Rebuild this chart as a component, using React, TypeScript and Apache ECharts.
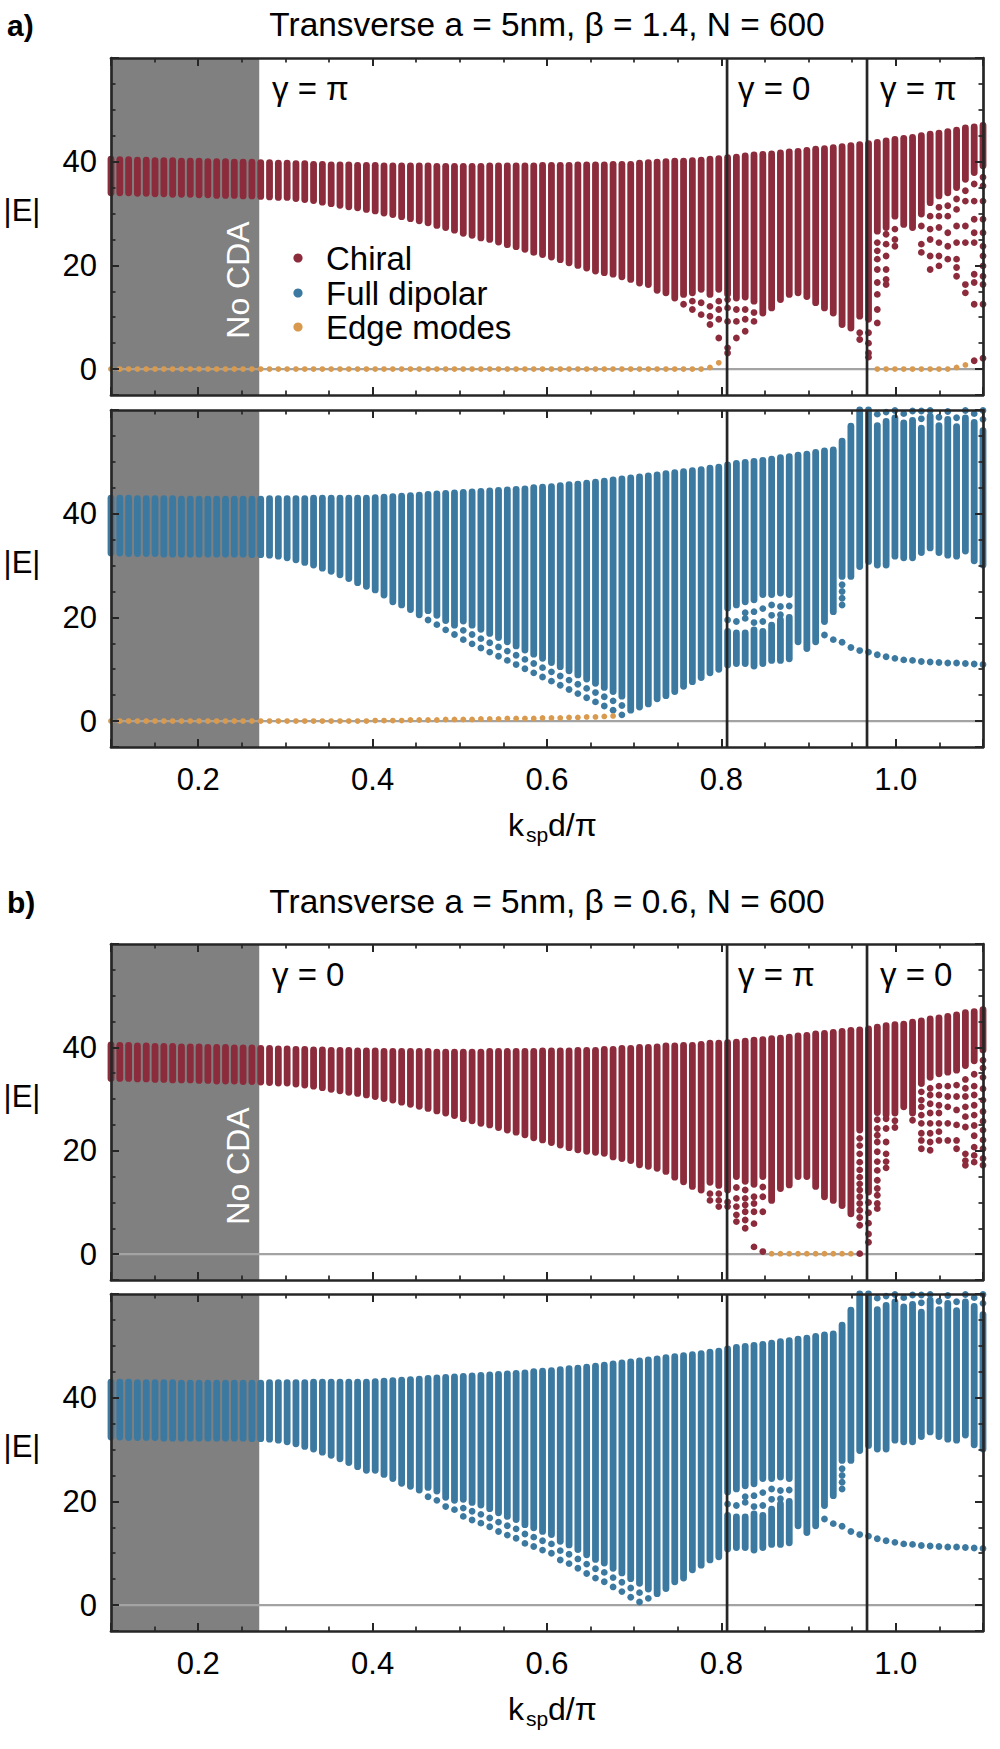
import React, { useEffect, useRef } from "react";
import * as echarts from "echarts";

// ---------- sampling grid (k_sp d / pi) ----------
const KD = [
  0.1, 0.1101, 0.1202, 0.1303, 0.1404, 0.1505, 0.1606, 0.1707, 0.1808, 0.1909,
  0.201, 0.2111, 0.2212, 0.2313, 0.2414, 0.2515, 0.2616, 0.2717, 0.2818, 0.2919,
  0.302, 0.3121, 0.3222, 0.3323, 0.3424, 0.3525, 0.3626, 0.3727, 0.3828, 0.3929,
  0.403, 0.4131, 0.4232, 0.4333, 0.4434, 0.4535, 0.4636, 0.4737, 0.4838, 0.4939,
  0.504, 0.5141, 0.5242, 0.5343, 0.5444, 0.5545, 0.5646, 0.5747, 0.5848, 0.5949,
  0.6051, 0.6152, 0.6253, 0.6354, 0.6455, 0.6556, 0.6657, 0.6758, 0.6859, 0.696,
  0.7061, 0.7162, 0.7263, 0.7364, 0.7465, 0.7566, 0.7667, 0.7768, 0.7869, 0.797,
  0.8071, 0.8172, 0.8273, 0.8374, 0.8475, 0.8576, 0.8677, 0.8778, 0.8879, 0.898,
  0.9081, 0.9182, 0.9283, 0.9384, 0.9485, 0.9586, 0.9687, 0.9788, 0.9889, 0.999,
  1.0091, 1.0192, 1.0293, 1.0394, 1.0495, 1.0596, 1.0697, 1.0798, 1.0899, 1.1,
];

const NO_CDA_RANGE = [0.1, 0.27];
const GAMMA_LINES = [0.8065, 0.967];
const X_TICKS_MIN = 0.1, X_TICKS_MAX = 1.1;
const Y_MIN = -5, Y_MAX = 60;

// ---------- panel a) upper: chiral (beta = 1.4) ----------
const A_CHIRAL_TOP = [
  40.5, 40.4, 40.4, 40.3, 40.3, 40.2, 40.2, 40.2, 40.1, 40.1,
  40.1, 40.0, 40.0, 40.0, 39.9, 39.9, 39.9, 39.8, 39.8, 39.7,
  39.7, 39.6, 39.6, 39.5, 39.5, 39.4, 39.4, 39.4, 39.3, 39.3,
  39.3, 39.2, 39.2, 39.2, 39.2, 39.2, 39.2, 39.1, 39.1, 39.1,
  39.1, 39.1, 39.1, 39.2, 39.2, 39.2, 39.2, 39.2, 39.2, 39.3,
  39.3, 39.3, 39.3, 39.4, 39.4, 39.4, 39.4, 39.5, 39.5, 39.5,
  39.7, 39.8, 39.9, 40.0, 40.1, 40.1, 40.2, 40.3, 40.5, 40.6,
  40.8, 40.9, 41.1, 41.3, 41.4, 41.5, 41.7, 41.9, 42.0, 42.2,
  42.4, 42.5, 42.7, 42.9, 43.1, 43.3, 43.5, 43.7, 44.0, 44.3,
  44.5, 44.7, 45.0, 45.3, 45.5, 45.8, 46.1, 46.5, 46.7, 47.0,
];
const A_CHIRAL_LOW = [
  34.0, 34.0, 34.0, 33.9, 33.9, 33.8, 33.8, 33.7, 33.7, 33.7,
  33.6, 33.6, 33.5, 33.5, 33.5, 33.4, 33.4, 33.3, 33.2, 33.1,
  33.1, 32.9, 32.7, 32.5, 32.2, 31.9, 31.6, 31.3, 31.1, 30.8,
  30.5, 30.1, 29.8, 29.4, 29.0, 28.6, 28.2, 27.7, 27.3, 26.8,
  26.2, 25.8, 25.3, 25.0, 24.5, 24.0, 23.6, 23.1, 22.5, 22.1,
  21.6, 21.1, 20.5, 20.0, 19.5, 18.9, 18.6, 18.3, 17.8, 17.3,
  16.6, 16.3, 15.2, 14.7, 13.7, 14.4, 14.7, 15.4, 14.4, 15.4,
  14.5, 13.7, 13.9, 13.1, 10.8, 11.8, 13.4, 14.4, 14.7, 14.0,
  12.8, 11.8, 10.8, 8.6, 7.9, 10.2, 10.0, 26.6, 27.3, 29.5,
  27.9, 27.3, 29.9, 32.1, 33.4, 34.0, 35.0, 36.6, 37.9, 39.2,
];
// [column index, isolated eigenvalues below the dense band...]
const A_CHIRAL_SPARSE = [
  [65, 12.5], [66, 13.1, 11.5], [67, 12.8, 10.5], [68, 12.1, 10.2, 8.6],
  [69, 13.1, 11.5, 9.6, 6.0], [70, 13.4, 11.8, 9.2, 4.1, 3.1], [71, 11.5, 9.2, 6.0],
  [72, 11.5, 9.6, 7.3], [73, 10.9, 9.2], [85, 7.0, 5.7], [86, 9.6, 7.0, 5.0, 3.1, 2.3],
  [87, 24.4, 22.8, 21.2, 19.2, 16.7, 14.4, 11.5, 8.9],
  [88, 26.0, 24.1, 21.8, 19.2, 17.3, 16.3],
  [89, 27.0, 25.0, 23.7],
  [92, 27.6, 24.1, 22.5],
  [93, 29.5, 27.0, 25.0, 21.8, 19.2],
  [94, 31.2, 29.5, 27.3, 24.4, 21.8, 19.9],
  [95, 31.5, 29.5, 26.3, 23.7, 21.2],
  [96, 32.8, 30.8, 27.6, 24.4, 21.2, 19.6, 17.9],
  [97, 34.4, 32.4, 27.6, 24.4, 16.3, 14.7],
  [98, 35.7, 32.4, 28.9, 26.3, 24.4, 18.3, 16.7, 12.5, 1.6],
  [99, 37.0, 35.3, 32.4, 28.9, 26.3, 23.7, 21.8, 19.9, 17.9, 16.3, 12.5, 2.1],
];
const A_CHIRAL_EDGE = [
  0, 0, 0, 0, 0, 0, 0, 0, 0, 0,
  0, 0, 0, 0, 0, 0, 0, 0, 0, 0,
  0, 0, 0, 0, 0, 0, 0, 0, 0, 0,
  0, 0, 0, 0, 0, 0, 0, 0, 0, 0,
  0, 0, 0, 0, 0, 0, 0, 0, 0, 0,
  0, 0, 0, 0, 0, 0, 0, 0, 0, 0,
  0, 0, 0, 0, 0, 0, 0, 0, 0.3, 1.2,
  null, null, null, null, null, null, null, null, null, null,
  null, null, null, null, null, null, null, 0, 0, 0,
  0, 0, 0, 0, 0, 0, 0.3, 0.8, null, null,
];

// ---------- full dipolar (shared upper edge) ----------
const DIP_TOP = [
  43.0, 43.0, 43.0, 42.9, 42.9, 42.9, 42.9, 42.9, 42.8, 42.8,
  42.8, 42.8, 42.8, 42.8, 42.8, 42.8, 42.8, 42.8, 42.9, 42.9,
  42.9, 42.9, 42.9, 43.0, 43.0, 43.0, 43.0, 43.0, 43.0, 43.0,
  43.1, 43.2, 43.3, 43.4, 43.5, 43.6, 43.7, 43.8, 43.9, 44.0,
  44.1, 44.2, 44.3, 44.4, 44.5, 44.6, 44.7, 44.8, 45.0, 45.1,
  45.2, 45.4, 45.6, 45.7, 45.9, 46.1, 46.3, 46.5, 46.7, 46.9,
  47.1, 47.3, 47.5, 47.7, 47.9, 48.1, 48.3, 48.5, 48.8, 49.0,
  49.4, 49.7, 49.9, 50.1, 50.3, 50.5, 50.8, 51.0, 51.3, 51.5,
  51.8, 52.1, 52.3, 54.0, 56.9, 62.0, 62.0, 57.0, 57.8, 58.5,
  57.5, 58.0, 56.5, 58.8, 57.0, 58.2, 56.8, 58.5, 57.6, 56.0,
];
// second (lower) dense block in the gamma window: [column, low, high]
const DIP_GAP_SEGMENTS = [
  [70, 10.8, 17.3], [71, 11.1, 17.0], [72, 11.1, 17.0], [73, 10.6, 17.6],
  [74, 11.1, 17.3], [75, 11.7, 18.5], [76, 11.7, 19.5], [77, 12.0, 20.0],
];
const DIP_RIGHT_DOTS = [
  [70, 19.5], [71, 19.2], [72, 19.8, 20.9], [73, 21.1, 19.0], [74, 21.7, 19.2],
  [75, 22.4, 20.4], [76, 22.1, 20.5], [77, 22.2],
  [81, 16.6], [82, 15.7], [83, 26.3, 25.0, 23.7, 22.4, 15.2], [84, 14.2], [85, 13.6],
  [86, 13.3], [87, 12.8, 59.2], [88, 12.4, 59.6], [89, 12.1, 59.9], [90, 11.8, 59.3],
  [91, 11.7, 59.8], [92, 11.5, 58.3, 59.8], [93, 11.4, 59.9], [94, 11.3, 58.6],
  [95, 11.2, 59.7], [96, 11.2, 58.5], [97, 11.1, 59.9], [98, 11.0, 59.3], [99, 10.9, 58.2, 59.9],
];

// ---------- panel a) lower: full dipolar (beta = 1.4) ----------
const A_DIP_LOW = [
  32.4, 32.4, 32.3, 32.3, 32.3, 32.3, 32.2, 32.2, 32.2, 32.2,
  32.2, 32.2, 32.2, 32.2, 32.2, 32.2, 32.1, 32.1, 32.0, 31.8,
  31.5, 31.1, 30.6, 30.1, 29.5, 28.9, 28.2, 27.5, 26.7, 26.0,
  25.3, 24.3, 23.0, 22.4, 21.5, 20.5, 21.3, 20.4, 19.4, 18.5,
  19.3, 18.5, 17.7, 16.9, 16.1, 15.3, 14.5, 13.7, 12.9, 12.1,
  11.3, 10.5, 9.7, 8.9, 8.1, 7.3, 6.5, 5.7, 4.8, 2.1,
  2.7, 3.3, 4.3, 4.9, 5.7, 6.7, 7.6, 8.4, 9.3, 10.0,
  21.8, 22.4, 23.0, 23.4, 24.4, 24.4, 24.7, 24.4, 15.3, 14.0,
  15.3, 19.2, 21.1, 27.9, 27.9, 29.8, 30.8, 30.1, 30.1, 31.8,
  31.5, 31.5, 32.5, 33.4, 32.5, 32.0, 31.8, 32.8, 30.9, 30.1,
];
const A_DIP_SPARSE = [
  [36, 19.5], [37, 18.6], [38, 17.6], [39, 16.7],
  [40, 17.5, 15.7], [41, 16.7, 14.9], [42, 15.9, 14.1], [43, 15.1, 13.3], [44, 14.3, 12.5],
  [45, 13.5, 11.7], [46, 12.7, 10.9], [47, 11.9, 10.1], [48, 11.1, 9.3], [49, 10.3, 8.5],
  [50, 9.5, 7.7], [51, 8.7, 6.9], [52, 7.9, 6.1], [53, 7.1, 5.3], [54, 6.3, 4.5],
  [55, 5.5, 3.7], [56, 4.7, 2.9], [57, 3.9, 2.1], [58, 3.0, 1.2],
];
const A_DIP_EDGE = [
  0, 0, 0, 0, 0, 0, 0, 0, 0, 0,
  0, 0, 0, 0, 0, 0, 0, 0, 0, 0,
  0, 0, 0, 0, 0, 0, 0, 0, 0, 0,
  0.1, 0.1, 0.1, 0.1, 0.2, 0.2, 0.2, 0.2, 0.3, 0.3,
  0.3, 0.3, 0.4, 0.4, 0.4, 0.5, 0.5, 0.5, 0.5, 0.6,
  0.6, 0.6, 0.7, 0.7, 0.8, 0.8, 0.9, 1.0, null, null,
  null, null, null, null, null, null, null, null, null, null,
  null, null, null, null, null, null, null, null, null, null,
  null, null, null, null, null, null, null, null, null, null,
  null, null, null, null, null, null, null, null, null, null,
];

// ---------- panel b) upper: chiral (beta = 0.6) ----------
const B_CHIRAL_TOP = [
  40.5, 40.4, 40.4, 40.3, 40.3, 40.2, 40.2, 40.2, 40.1, 40.1,
  40.1, 40.0, 40.0, 40.0, 39.9, 39.9, 39.9, 39.8, 39.8, 39.7,
  39.7, 39.6, 39.6, 39.5, 39.5, 39.4, 39.4, 39.4, 39.3, 39.3,
  39.3, 39.2, 39.2, 39.2, 39.2, 39.2, 39.2, 39.1, 39.1, 39.1,
  39.1, 39.1, 39.1, 39.2, 39.2, 39.2, 39.2, 39.2, 39.2, 39.3,
  39.3, 39.3, 39.3, 39.4, 39.4, 39.4, 39.6, 39.6, 39.8, 39.8,
  40.0, 40.0, 40.1, 40.3, 40.3, 40.4, 40.4, 40.6, 40.8, 40.8,
  40.9, 41.0, 41.2, 41.4, 41.5, 41.7, 41.8, 42.0, 42.2, 42.3,
  42.6, 42.7, 42.9, 43.1, 43.3, 43.4, 43.6, 43.9, 44.2, 44.4,
  44.5, 44.9, 45.1, 45.5, 45.7, 46.0, 46.3, 46.7, 46.9, 47.3,
];
const B_CHIRAL_LOW = [
  34.0, 34.0, 34.0, 33.9, 33.9, 33.8, 33.8, 33.7, 33.7, 33.7,
  33.6, 33.6, 33.5, 33.5, 33.5, 33.4, 33.4, 33.3, 33.2, 33.1,
  33.1, 32.9, 32.7, 32.5, 32.2, 31.9, 31.6, 31.3, 31.1, 30.8,
  30.5, 30.1, 29.8, 29.4, 29.0, 28.6, 28.2, 27.7, 27.3, 26.8,
  26.2, 25.8, 25.3, 25.0, 24.5, 24.0, 23.6, 23.1, 22.5, 22.1,
  21.6, 21.1, 20.6, 20.2, 19.9, 19.7, 19.5, 18.8, 18.5, 18.1,
  17.3, 17.0, 16.6, 16.0, 14.9, 14.0, 13.1, 12.4, 13.9, 13.3,
  12.4, 15.0, 14.1, 13.5, 15.0, 10.4, 12.7, 13.4, 15.0, 15.0,
  13.1, 11.1, 10.4, 9.4, 7.8, 24.0, 12.0, 27.4, 27.0, 27.3,
  28.5, 27.3, 33.0, 34.2, 34.9, 35.2, 35.6, 36.5, 37.4, 39.5,
];
const B_CHIRAL_SPARSE = [
  [68, 11.7, 10.4], [69, 11.7, 10.4, 9.2], [70, 10.1, 9.2],
  [71, 12.9, 10.8, 9.2, 7.6, 6.3], [72, 12.4, 10.8, 9.5, 8.2, 6.6, 5.0],
  [73, 11.1, 9.8, 8.2, 5.9, 1.4], [74, 13.0, 11.1, 8.2, 0.5],
  [85, 22.4, 21.0, 19.4, 17.8, 16.3, 14.9, 13.6, 12.4, 11.1, 9.8, 8.5, 7.1, 5.6, 0.1],
  [86, 10.0, 8.0, 6.0, 3.9, 2.3],
  [87, 26.0, 24.3, 23.0, 21.7, 19.8, 17.9, 16.2, 14.3, 12.7, 11.4, 9.8, 8.8],
  [88, 26.2, 24.3, 21.7, 19.4, 17.9, 16.7],
  [89, 25.8, 24.5], [91, 25.9],
  [92, 31.4, 29.8, 28.5, 26.9, 25.3, 23.4, 22.0, 20.4],
  [93, 32.1, 30.8, 29.1, 27.3, 25.3, 23.4, 21.7, 20.1],
  [94, 32.5, 30.8, 28.8, 27.3, 25.3, 23.7, 22.0],
  [95, 32.5, 30.5, 28.5, 25.3, 22.0],
  [96, 32.7, 30.5, 27.9, 25.0, 22.0, 20.4],
  [97, 33.8, 32.1, 30.5, 28.5, 26.6, 24.6, 19.4, 18.1, 17.2],
  [98, 34.8, 32.5, 30.8, 28.8, 26.9, 24.9, 22.9, 20.7, 19.1, 17.8],
  [99, 37.5, 36.0, 34.2, 32.0, 29.8, 27.6, 25.7, 24.0, 22.1, 20.4, 18.5, 17.2],
];
const B_CHIRAL_EDGE = [
  null, null, null, null, null, null, null, null, null, null,
  null, null, null, null, null, null, null, null, null, null,
  null, null, null, null, null, null, null, null, null, null,
  null, null, null, null, null, null, null, null, null, null,
  null, null, null, null, null, null, null, null, null, null,
  null, null, null, null, null, null, null, null, null, null,
  null, null, null, null, null, null, null, null, null, null,
  null, null, null, null, null, 0.1, 0.1, 0.1, 0.1, 0.1,
  0.1, 0.1, 0.1, 0.1, 0.1, null, null, null, null, null,
  null, null, null, null, null, null, null, null, null, null,
];

// ---------- panel b) lower: full dipolar (beta = 0.6) ----------
const B_DIP_LOW = [
  32.4, 32.4, 32.3, 32.3, 32.3, 32.3, 32.2, 32.2, 32.2, 32.2,
  32.2, 32.2, 32.2, 32.2, 32.2, 32.2, 32.1, 32.1, 32.0, 31.8,
  31.5, 31.1, 30.6, 30.1, 29.5, 28.9, 28.2, 27.5, 26.7, 26.0,
  26.0, 25.2, 24.4, 23.5, 22.9, 22.2, 22.7, 22.0, 20.8, 20.2,
  20.4, 19.8, 19.3, 18.6, 17.8, 17.1, 16.5, 15.5, 14.9, 14.2,
  13.6, 12.3, 11.6, 10.7, 9.7, 8.8, 8.1, 7.1, 6.2, 5.1,
  4.2, 3.1, 2.2, 3.2, 4.5, 5.2, 6.8, 7.7, 8.7, 9.3,
  21.8, 22.4, 23.0, 23.4, 24.4, 24.4, 24.7, 24.4, 15.3, 14.0,
  15.3, 19.2, 21.1, 27.9, 27.9, 29.8, 30.8, 30.1, 30.1, 31.8,
  31.5, 31.5, 32.5, 33.4, 32.5, 32.0, 31.8, 32.8, 30.9, 30.1,
];
const B_DIP_SPARSE = [
  [36, 20.9], [37, 20.2], [38, 19.0], [39, 18.4],
  [40, 18.7, 17.1], [41, 18.1, 16.4], [42, 17.5, 15.8], [43, 16.8, 15.1], [44, 16.0, 14.2],
  [45, 15.3, 13.5], [46, 14.7, 12.9], [47, 13.7, 11.9], [48, 13.1, 11.3], [49, 12.4, 10.6],
  [50, 11.8, 10.0], [51, 10.5, 8.7], [52, 9.8, 8.0], [53, 8.9, 7.1], [54, 7.9, 6.1],
  [55, 7.0, 5.2], [56, 6.3, 4.5], [57, 5.3, 3.5], [58, 4.4, 2.6], [59, 3.3, 1.5],
  [60, 2.4, 0.6], [61, 1.3],
];

// ---------- texts ----------
const TITLE_A = "Transverse a = 5nm, β = 1.4, N = 600";
const TITLE_B = "Transverse a = 5nm, β = 0.6, N = 600";
const GAMMA_A = ["γ = π", "γ = 0", "γ = π"];
const GAMMA_B = ["γ = 0", "γ = π", "γ = 0"];
const LEGEND_NAMES = ["Chiral", "Full dipolar", "Edge modes"];

// ---------- styling ----------
const RED = "#8c2b3b";
const BLUE = "#3c79a0";
const ORANGE = "#d99a4e";
const SHADE = "#808080";
const ZERO_COLOR = "#a3a3a3";
const FRAME = "#262626";
const DOT = 6.8;
const EDGE_DOT = 5.8;
const FONT = '"Liberation Sans", Arial, Helvetica, sans-serif';

const GRIDS = [
  { left: 111, top: 58, width: 872, height: 337 },
  { left: 111, top: 410, width: 872, height: 337 },
  { left: 111, top: 944, width: 872, height: 336 },
  { left: 111, top: 1294, width: 872, height: 337 },
];

function bandData(low: number[], high: number[]) {
  return KD.map((x, i) => [x, low[i], high[i]]);
}
function segData(list: number[][]) {
  return list.map(([k, lo, hi]) => [KD[k], lo, hi]);
}
function dotData(list: number[][]) {
  const out: number[][] = [];
  list.forEach(([k, ...vals]) => vals.forEach((v) => out.push([KD[k], v])));
  return out;
}
function edgeData(arr: (number | null)[] | null) {
  if (!arr) return [];
  const out: number[][] = [];
  arr.forEach((v, i) => {
    if (v !== null) out.push([KD[i], v]);
  });
  return out;
}

const stripeRenderer = (color: string) => (params: any, api: any) => {
  const cs = params.coordSys;
  const x = api.value(0);
  const a = api.coord([x, api.value(1)]);
  const b = api.coord([x, api.value(2)]);
  const y2 = Math.max(b[1], cs.y);
  return {
    type: "line",
    shape: { x1: a[0], y1: a[1], x2: b[0], y2 },
    style: { stroke: color, lineWidth: DOT, lineCap: "round" },
  };
};

function buildSeries() {
  const panels = [
    { color: RED, high: A_CHIRAL_TOP, low: A_CHIRAL_LOW, segs: [] as number[][], dots: A_CHIRAL_SPARSE, edge: A_CHIRAL_EDGE },
    { color: BLUE, high: DIP_TOP, low: A_DIP_LOW, segs: DIP_GAP_SEGMENTS, dots: [...A_DIP_SPARSE, ...DIP_RIGHT_DOTS], edge: A_DIP_EDGE },
    { color: RED, high: B_CHIRAL_TOP, low: B_CHIRAL_LOW, segs: [] as number[][], dots: B_CHIRAL_SPARSE, edge: B_CHIRAL_EDGE },
    { color: BLUE, high: DIP_TOP, low: B_DIP_LOW, segs: DIP_GAP_SEGMENTS, dots: [...B_DIP_SPARSE, ...DIP_RIGHT_DOTS], edge: null },
  ];
  const series: any[] = [];
  panels.forEach((p, g) => {
    const ax = { xAxisIndex: g * 2, yAxisIndex: g * 2 };
    series.push({
      type: "custom", ...ax, z: 1, silent: true,
      data: [[NO_CDA_RANGE[0], NO_CDA_RANGE[1]]],
      renderItem: (params: any, api: any) => {
        const cs = params.coordSys;
        const a = api.coord([api.value(0), 0]);
        const b = api.coord([api.value(1), 0]);
        return { type: "rect", shape: { x: a[0], y: cs.y, width: b[0] - a[0], height: cs.height }, style: { fill: SHADE } };
      },
    });
    series.push({
      type: "custom", ...ax, z: 2, silent: true,
      data: [[X_TICKS_MIN, 0]],
      renderItem: (params: any, api: any) => {
        const cs = params.coordSys;
        const p0 = api.coord([api.value(0), api.value(1)]);
        return { type: "line", shape: { x1: cs.x, y1: p0[1], x2: cs.x + cs.width, y2: p0[1] }, style: { stroke: ZERO_COLOR, lineWidth: 2.2 } };
      },
    });
    series.push({
      type: "custom", ...ax, z: 3, silent: true, clip: false,
      data: bandData(p.low, p.high),
      renderItem: stripeRenderer(p.color),
    });
    if (p.segs.length) {
      series.push({
        type: "custom", ...ax, z: 3, silent: true, clip: false,
        data: segData(p.segs),
        renderItem: stripeRenderer(p.color),
      });
    }
    series.push({
      type: "scatter", ...ax, z: 4, silent: true, clip: false,
      symbol: "circle", symbolSize: DOT,
      itemStyle: { color: p.color, opacity: 1 },
      emphasis: { disabled: true },
      data: dotData(p.dots),
    });
    const ed = edgeData(p.edge);
    if (ed.length) {
      series.push({
        type: "scatter", ...ax, z: 5, silent: true, clip: false,
        symbol: "circle", symbolSize: EDGE_DOT,
        itemStyle: { color: ORANGE, opacity: 1 },
        emphasis: { disabled: true },
        data: ed,
      });
    }
    series.push({
      type: "custom", ...ax, z: 6, silent: true,
      data: GAMMA_LINES.map((x) => [x, 0]),
      renderItem: (params: any, api: any) => {
        const cs = params.coordSys;
        const p0 = api.coord([api.value(0), 0]);
        return { type: "line", shape: { x1: p0[0], y1: cs.y, x2: p0[0], y2: cs.y + cs.height }, style: { stroke: FRAME, lineWidth: 2.7 } };
      },
    });
  });
  return series;
}

function axisBase() {
  return {
    type: "value",
    z: 10,
    splitLine: { show: false },
    minorSplitLine: { show: false },
    axisLine: { show: true, onZero: false, lineStyle: { color: FRAME, width: 2.7 } },
    axisTick: { show: true, inside: true, length: 8, lineStyle: { color: FRAME, width: 2 } },
    minorTick: { show: true, splitNumber: 4, length: 4.5, lineStyle: { color: FRAME, width: 1.7 } },
  };
}

function buildAxes() {
  const xAxis: any[] = [];
  const yAxis: any[] = [];
  GRIDS.forEach((_, g) => {
    const showX = g === 1 || g === 3;
    xAxis.push({
      ...axisBase(), gridIndex: g, position: "bottom",
      min: X_TICKS_MIN, max: X_TICKS_MAX, splitNumber: 5,
      axisLabel: {
        show: showX, showMinLabel: false, showMaxLabel: false, margin: 17,
        fontSize: 31, color: "#000", fontFamily: FONT,
        formatter: (v: number) => v.toFixed(1),
      },
    });
    xAxis.push({
      ...axisBase(), gridIndex: g, position: "top",
      min: X_TICKS_MIN, max: X_TICKS_MAX, splitNumber: 5,
      axisLabel: { show: false },
    });
    yAxis.push({
      ...axisBase(), gridIndex: g, position: "left",
      min: Y_MIN, max: Y_MAX, splitNumber: 3,
      axisLabel: {
        show: true, showMinLabel: false, showMaxLabel: false, margin: 14,
        fontSize: 31, color: "#000", fontFamily: FONT,
        formatter: (v: number) => String(v),
      },
    });
    yAxis.push({
      ...axisBase(), gridIndex: g, position: "right",
      min: Y_MIN, max: Y_MAX, splitNumber: 3,
      axisLabel: { show: false },
    });
  });
  return { xAxis, yAxis };
}

function txt(text: string, x: number, y: number, extra: any = {}) {
  return {
    type: "text", z: 20, silent: true, x, y,
    style: {
      text, fill: "#000", fontSize: 33, fontFamily: FONT,
      textAlign: "left", textVerticalAlign: "middle", ...extra,
    },
  };
}

function buildGraphic() {
  const g: any[] = [];
  // panel headers
  g.push(txt("a)", 7, 25, { fontWeight: "bold", fontSize: 30 }));
  g.push(txt(TITLE_A, 547, 24, { textAlign: "center", fontSize: 33.4 }));
  g.push(txt("b)", 7, 902, { fontWeight: "bold", fontSize: 30 }));
  g.push(txt(TITLE_B, 547, 901, { textAlign: "center", fontSize: 33.4 }));
  // |E| labels
  GRIDS.forEach((gr) => g.push(txt("|E|", 22, gr.top + 152, { textAlign: "center", fontSize: 31 })));
  // gamma labels
  const gx = [272, 738, 880];
  GAMMA_A.forEach((t, i) => g.push(txt(t, gx[i], GRIDS[0].top + 30)));
  GAMMA_B.forEach((t, i) => g.push(txt(t, gx[i], GRIDS[2].top + 30)));
  // No CDA
  [GRIDS[0], GRIDS[2]].forEach((gr) => {
    g.push({
      type: "text", z: 20, silent: true, x: 238, y: gr.top + 222, rotation: Math.PI / 2,
      style: { text: "No CDA", fill: "#fff", fontSize: 32, fontFamily: FONT, textAlign: "center", textVerticalAlign: "middle" },
    });
  });
  // legend
  const legendColors = [RED, BLUE, ORANGE];
  const ly = [258, 293, 327];
  LEGEND_NAMES.forEach((name, i) => {
    g.push({ type: "circle", z: 20, silent: true, x: 298, y: ly[i], shape: { cx: 0, cy: 0, r: 4.6 }, style: { fill: legendColors[i] } });
    g.push(txt(name, 326, ly[i]));
  });
  // x axis titles  k_sp d/pi
  [GRIDS[1], GRIDS[3]].forEach((gr) => {
    const base = gr.top + gr.height + 89;
    g.push(txt("k", 508, base - 11, { fontSize: 32 }));
    g.push(txt("sp", 526, base - 2, { fontSize: 21 }));
    g.push(txt("d/π", 548, base - 11, { fontSize: 32 }));
  });
  return g;
}

export default function App() {
  const ref = useRef<HTMLDivElement>(null);
  useEffect(() => {
    if (!ref.current) return;
    const chart = echarts.init(ref.current, undefined, { renderer: "svg" });
    const { xAxis, yAxis } = buildAxes();
    chart.setOption({
      animation: false,
      backgroundColor: "#ffffff",
      textStyle: { fontFamily: FONT },
      grid: GRIDS.map((g) => ({ ...g, show: false })),
      xAxis,
      yAxis,
      series: buildSeries(),
      graphic: buildGraphic(),
    });
    return () => chart.dispose();
  }, []);
  return (
    <div
      ref={ref}
      style={{ position: "absolute", left: 0, top: 0, width: 1000, height: 1749, background: "#fff" }}
    />
  );
}
